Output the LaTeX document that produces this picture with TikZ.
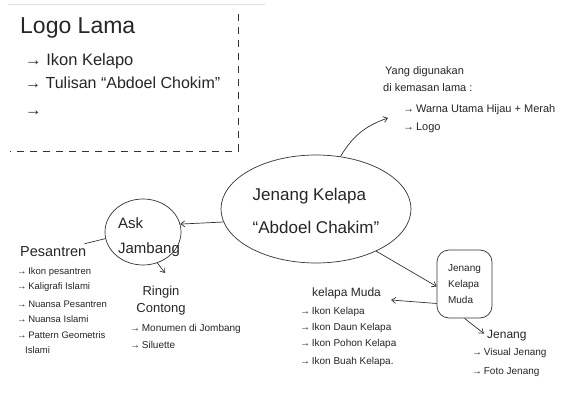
\documentclass[tikz,border=0pt]{standalone}
\usepackage{fontspec}
\setmainfont{Liberation Sans}
\usetikzlibrary{shapes.geometric,arrows.meta,calc}
\begin{document}
\begin{tikzpicture}[x=1pt,y=-1pt,
  ink/.style={draw=black!80, line width=0.7pt},
  arr/.style={ink, -{Straight Barb[length=4pt,width=6pt]}},
  txt/.style={inner sep=0pt, text=black!85, anchor=west},
  title/.style={txt, font=\fontsize{23}{27}\selectfont},
  sub/.style={txt, font=\fontsize{16.5}{19}\selectfont},
  head/.style={txt, font=\fontsize{13}{16}\selectfont},
  note/.style={txt, font=\fontsize{11}{13}\selectfont},
  item/.style={txt, font=\fontsize{10}{12}\selectfont},
  tiny/.style={txt, font=\fontsize{9.5}{11}\selectfont}]
\useasboundingbox (0,0) rectangle (562,395);
\fill[white] (0,0) rectangle (562,395);
% paper edge and dashed frame
\draw[gray!25, line width=1pt] (8,5) -- (265,5);
\draw[ink, dash pattern=on 7pt off 6pt] (238,14) -- (238,151) -- (10,151);
% old logo
\node[title] (logo) at (20,28) {Logo Lama};
\node[sub] (l1) at (25,61) {→ Ikon Kelapo};
\node[sub, font=\fontsize{16}{19}\selectfont] (l2) at (25,83) {→ Tulisan ``Abdoel Chokim''};
\node[sub] (l3) at (25,113) {→};
% top right
\node[note] (tr1) at (385,72) {Yang digunakan};
\node[note] (tr2) at (383,88) {di kemasan lama :};
\node[note] (tr3) at (403,110) {→\,Warna Utama Hijau + Merah};
\node[note] (tr4) at (403,128) {→\,Logo};
\coordinate (tr) at (388,118);
% centre
\node[ellipse, ink, minimum width=190pt, minimum height=108pt] (c) at (316,209) {};
\node[inner sep=0pt, align=left, text=black!85, font=\fontsize{17}{33}\selectfont] (ct) at ([yshift=-2pt]c.center) {Jenang Kelapa\\``Abdoel Chakim''};
% Ask Jambang
\node[ellipse, ink, minimum width=76pt, minimum height=66pt] (ask) at (143,232) {};
\node[inner sep=0pt, align=left, text=black!85, font=\fontsize{15}{25}\selectfont] (askt) at (149,237) {Ask\\Jambang};
% Pesantren
\node[head, font=\fontsize{14.5}{17}\selectfont] (pes) at (20,252) {Pesantren};
\node[tiny] (p1) at (17,272) {→\,Ikon pesantren};
\node[tiny] (p2) at (17,287) {→\,Kaligrafi Islami};
\node[tiny] (p3) at (17,304) {→\,Nuansa Pesantren};
\node[tiny] (p4) at (17,319) {→\,Nuansa Islami};
\node[tiny] (p5) at (17,335) {→\,Pattern Geometris};
\node[tiny] (p6) at (25,350) {Islami};
% Ringin Contong
\node[inner sep=0pt, align=center, text=black!85, font=\fontsize{13}{17}\selectfont] (ring) at (161,301) {Ringin\\Contong};
\coordinate (rtip) at (165,273);
\node[item] (r1) at (130,329) {→\,Monumen di Jombang};
\node[item] (r2) at (130,345) {→\,Siluette};
% Jenang Kelapa Muda
\node[rectangle, rounded corners=12pt, ink, minimum width=55pt, minimum height=68pt, inner sep=0pt, align=left, text=black!85, font=\fontsize{10}{16}\selectfont] (jkm) at (464.5,284) {Jenang\\Kelapa\\Muda};
% kelapa Muda
\node[head, font=\fontsize{12}{14}\selectfont] (km) at (312,293) {kelapa Muda};
\node[item] (k1) at (300,312) {→\,Ikon Kelapa};
\node[item] (k2) at (300,328) {→\,Ikon Daun Kelapa};
\node[item] (k3) at (300,344) {→\,Ikon Pohon Kelapa};
\node[item] (k4) at (300,362) {→\,Ikon Buah Kelapa.};
% Jenang
\node[head, font=\fontsize{12}{14}\selectfont] (jen) at (487,336) {Jenang};
\node[item] (j1) at (472,353) {→\,Visual Jenang};
\node[item] (j2) at (472,372) {→\,Foto Jenang};
% connectors
\draw[arr] (c.65) to[bend left=20] (tr);
\draw[arr] (c.188) -- (ask.12);
\draw[ink] (ask.190) -- ($(pes.north east)+(-2,-3)$);
\draw[arr] (ask.295) -- (rtip);
\draw[arr] (c.-35) -- (jkm.185);
\draw[arr] (jkm.215) -- ($(km.east)+(10,7)$);
\draw[arr, shorten >=4pt] (jkm.south) -- (jen.west);
\end{tikzpicture}
\end{document}
